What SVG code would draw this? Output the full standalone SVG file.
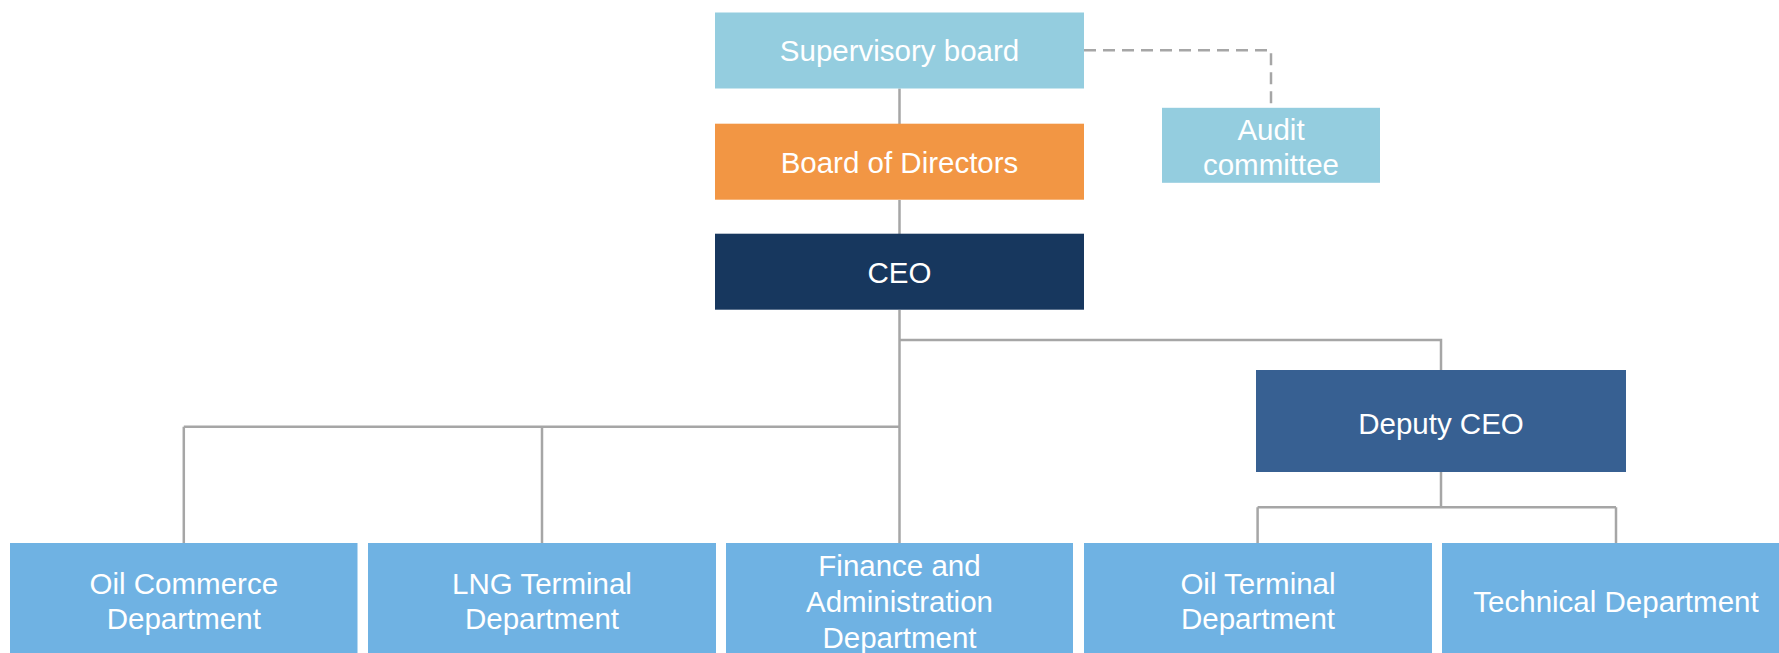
<svg xmlns="http://www.w3.org/2000/svg" width="1779" height="653" viewBox="0 0 1779 653">
<style>
text{font-family:"Liberation Sans",Arial,sans-serif;font-size:29.5px;fill:#fff;text-anchor:middle}
.ln{fill:none;stroke:#A6A6A6;stroke-width:2.5}
.dash{fill:none;stroke:#A6A6A6;stroke-width:2.5;stroke-dasharray:12 7}
.sup{fill:#94CDDF}
.bod{fill:#F29644}
.ceo{fill:#17375E}
.dep{fill:#376092}
.dept{fill:#6FB2E3}
</style>
<g id="connectors">
<path class="ln" d="M899.5 88.5V124M899.5 200V234M899.5 310V543M899.5 340H1441V370M183.8 426.7H899.5M183.8 426.7V543M542 426.7V543M1441 472V507.3M1257.6 507.3H1616M1257.6 507.3V543M1616 507.3V543"/>
<path class="dash" d="M1084 50.3H1271V108"/>
</g>
<g id="supervisory-board"><rect class="sup" x="715" y="12.5" width="369" height="76"/><text x="899.5" y="61">Supervisory board</text></g>
<g id="board-of-directors"><rect class="bod" x="715" y="123.7" width="369" height="76"/><text x="899.5" y="172.5">Board of Directors</text></g>
<g id="ceo"><rect class="ceo" x="715" y="233.7" width="369" height="76"/><text x="899.5" y="282.5">CEO</text></g>
<g id="audit-committee"><rect class="sup" x="1162" y="107.8" width="218" height="75"/><text x="1271" y="139.5">Audit</text><text x="1271" y="175">committee</text></g>
<g id="deputy-ceo"><rect class="dep" x="1256" y="370" width="370" height="102"/><text x="1441" y="433.5">Deputy CEO</text></g>
<g id="oil-commerce"><rect class="dept" x="10" y="543" width="347.5" height="116"/><text x="183.8" y="593.5">Oil Commerce</text><text x="183.8" y="629">Department</text></g>
<g id="lng-terminal"><rect class="dept" x="368" y="543" width="348" height="116"/><text x="542" y="593.5">LNG Terminal</text><text x="542" y="629">Department</text></g>
<g id="finance-admin"><rect class="dept" x="726" y="543" width="347" height="116"/><text x="899.5" y="575.5">Finance and</text><text x="899.5" y="611.5">Administration</text><text x="899.5" y="647.5">Department</text></g>
<g id="oil-terminal"><rect class="dept" x="1084" y="543" width="348" height="116"/><text x="1258" y="593.5">Oil Terminal</text><text x="1258" y="629">Department</text></g>
<g id="technical"><rect class="dept" x="1442" y="543" width="348" height="116"/><text x="1616" y="611.5">Technical Department</text></g>
</svg>
